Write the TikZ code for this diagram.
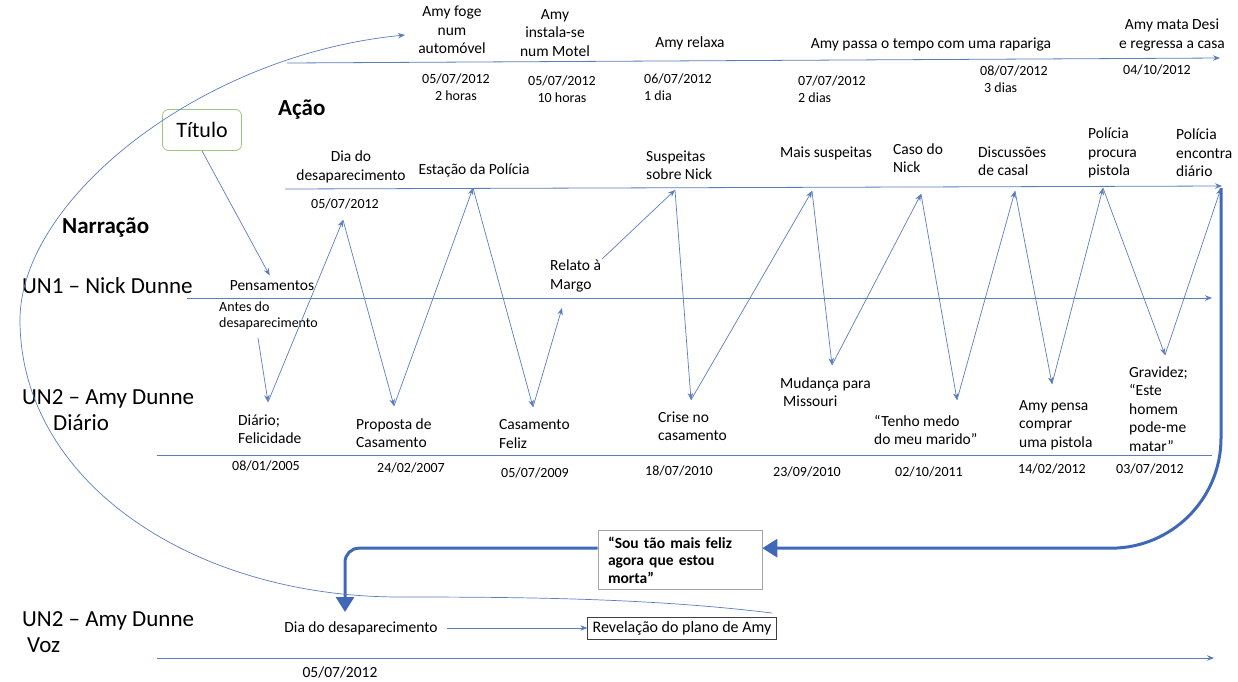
\documentclass[tikz,border=0pt]{standalone}
\usepackage{fontspec}
\setmainfont{Carlito}
\usepackage{tikz}
\usetikzlibrary{arrows.meta, positioning, calc}

\definecolor{lineblue}{HTML}{5A7DBF}
\definecolor{boldblue}{HTML}{4068B8}
\definecolor{titlegreen}{HTML}{9CC87E}

\begin{document}
\begin{tikzpicture}[
    x=1pt, y=-1pt,
    every node/.style={inner sep=1pt, font=\fontsize{15.5}{18.5}\selectfont},
    event/.style={align=center},
    leftnote/.style={align=left, anchor=west},
    dtext/.style={font=\fontsize{14}{17}\selectfont},
    lane/.style={anchor=west, align=left, inner sep=0pt, font=\fontsize{23}{26}\selectfont},
    heading/.style={anchor=west, inner sep=0pt, font=\fontsize{23}{26}\selectfont\bfseries},
    timeline/.style={draw=lineblue, line width=0.8pt},
    flow/.style={draw=lineblue, line width=0.7pt, -{Stealth[length=7pt, width=5.5pt]}},
    jumpback/.style={draw=boldblue, line width=3pt, -{Triangle[length=15pt, width=18pt]}},
    quotebox/.style={draw=gray!70, line width=0.6pt, align=left, text width=144pt, inner xsep=10pt, inner ysep=6pt, font=\fontsize{15.5}{17.5}\selectfont\bfseries},
    planbox/.style={draw=black!75, line width=0.6pt, inner xsep=5pt, inner ysep=4pt, font=\fontsize{16}{19}\selectfont}
]
    \useasboundingbox (0,0) rectangle (1238,681);

    % Lane titles
    \node[heading] (acao) at (278,110) {Ação};
    \node[heading] (narracao) at (62,228) {Narração};
    \node[draw=titlegreen, rounded corners=6pt, line width=0.8pt, minimum width=79pt, minimum height=41pt, font=\fontsize{22}{26}\selectfont] (titulo) at (202,130) {Título};
    \node[lane] (un1) at (22,286) {UN1 – Nick Dunne};
    \node[lane] (un2) at (22,410) {UN2 – Amy Dunne\\\hspace*{31pt}Diário};
    \node[lane] (un2voz) at (22,632) {UN2 – Amy Dunne\\\hspace*{5pt}Voz};

    % Timeline lines
    \coordinate (topL) at (287,63);
    \coordinate (topR) at (1220,58);
    \coordinate (acaoL) at (285,189);
    \coordinate (acaoR) at (1222,186);
    \coordinate (nickL) at (187,298);
    \coordinate (nickR) at (1212,298);
    \coordinate (diarioL) at (157,455);
    \coordinate (diarioR) at (1212,455);
    \coordinate (vozL) at (157,658);
    \coordinate (vozR) at (1214,658);
    \draw[flow, line width=0.8pt] (topL) -- (topR);
    \draw[flow, line width=0.8pt] (acaoL) -- (acaoR);
    \draw[flow, line width=0.8pt] (nickL) -- (nickR);
    \draw[timeline] (diarioL) -- (diarioR);
    \draw[flow, line width=0.8pt] (vozL) -- (vozR);

    % Amy after the disappearance
    \node[event] (foge) at (452,30) {Amy foge\\num\\automóvel};
    \node[event] (motel) at (555,33) {Amy\\instala-se\\num Motel};
    \node (relaxa) at (690,43) {Amy relaxa};
    \node (rapariga) at (931,44) {Amy passa o tempo com uma rapariga};
    \node[event] (desi) at (1172,35) {Amy mata Desi\\e regressa a casa};
    \node[event, dtext] (h2) at (456,87) {05/07/2012\\2 horas};
    \node[event, dtext] (h10) at (562,89) {05/07/2012\\10 horas};
    \node[leftnote, dtext] (dia1) at (643,87) {06/07/2012\\1 dia};
    \node[leftnote, dtext] (dias2) at (797,89) {07/07/2012\\2 dias};
    \node[leftnote, dtext] (dias3) at (979,79) {08/07/2012\\\hspace*{4pt}3 dias};
    \node[leftnote, dtext] (volta) at (1122,70) {04/10/2012};

    % Nick
    \node[event] (diades) at (351,167) {Dia do\\desaparecimento};
    \node[dtext] (diadata) at (345,204) {05/07/2012};
    \node (estacao) at (474,170) {Estação da Polícia};
    \node[leftnote] (suspeitas) at (645,165) {Suspeitas\\sobre Nick};
    \node (mais) at (826,153) {Mais suspeitas};
    \node[leftnote] (caso) at (892,158) {Caso do\\Nick};
    \node[leftnote] (discussoes) at (977,161) {Discussões\\de casal};
    \node[leftnote] (procura) at (1087,153) {Polícia\\procura\\pistola};
    \node[leftnote] (encontra) at (1175,153) {Polícia\\encontra\\diário};
    \node[leftnote] (relato) at (549,276) {Relato à\\Margo};
    \node (pensamentos) at (272,286) {Pensamentos};
    \node[leftnote, font=\fontsize{14}{16.5}\selectfont] (antes) at (218,316) {Antes do\\desaparecimento};

    % Diary
    \node[leftnote] (felicidade) at (237,429) {Diário;\\Felicidade};
    \node[leftnote] (proposta) at (355,433) {Proposta de\\Casamento};
    \node[leftnote] (casfeliz) at (498,434) {Casamento\\Feliz};
    \node[leftnote] (crise) at (657,426) {Crise no\\casamento};
    \node[leftnote] (mudanca) at (779,392) {Mudança para\\\hspace*{3pt}Missouri};
    \node[leftnote] (medo) at (873,430) {“Tenho medo\\do meu marido”};
    \node[leftnote] (pistola) at (1018,425) {Amy pensa\\comprar\\uma pistola};
    \node[leftnote] (gravidez) at (1128,409) {Gravidez;\\“Este\\homem\\pode-me\\matar”};
    \node[dtext] (d2005) at (266,466) {08/01/2005};
    \node[dtext] (d2007) at (411,468) {24/02/2007};
    \node[dtext] (d2009) at (535,473) {05/07/2009};
    \node[dtext] (d2010a) at (679,471) {18/07/2010};
    \node[dtext] (d2010b) at (807,472) {23/09/2010};
    \node[dtext] (d2011) at (929,472) {02/10/2011};
    \node[dtext] (d2012a) at (1052,469) {14/02/2012};
    \node[dtext] (d2012b) at (1150,469) {03/07/2012};

    % Voice
    \node[quotebox] (sou) at (680,560) {“Sou tão mais feliz\\agora que estou\\morta”};
    \node (dia2) at (361,628) {Dia do desaparecimento};
    \node[planbox] (plano) at (682,628) {Revelação do plano de Amy};
    \node (vozdata) at (340,672) {05/07/2012};

    % Zigzag points
    \coordinate (t0) at (258,338);
    \coordinate (t1) at (268,402);
    \coordinate (t2) at (343,220);
    \coordinate (t3) at (394,406);
    \coordinate (t4) at (473,188);
    \coordinate (t5) at (533,407);
    \coordinate (t6) at (562,308);
    \coordinate (t7) at (675,190);
    \coordinate (t8) at (691,400);
    \coordinate (t9) at (812,191);
    \coordinate (t10) at (832,365);
    \coordinate (t11) at (921,194);
    \coordinate (t12) at (957,400);
    \coordinate (t13) at (1015,191);
    \coordinate (t14) at (1052,384);
    \coordinate (t15) at (1103,188);
    \coordinate (t16) at (1165,355);
    \coordinate (t17) at (1221,188);
    \coordinate (drop) at (345,612);
    \coordinate (loopend) at (405,35);
    \coordinate (plantop) at (772,613);

    % Arrows
    \draw[flow, shorten >=5pt] (titulo.south) -- (pensamentos.north);
    \draw[flow] (t0) -- (t1);
    \draw[flow] (t1) -- (t2);
    \draw[flow] (t2) -- (t3);
    \draw[flow] (t3) -- (t4);
    \draw[flow] (t4) -- (t5);
    \draw[flow] (t5) -- (t6);
    \draw[flow] (relato.north east) -- (t7);
    \draw[flow] (t7) -- (t8);
    \draw[flow] (t8) -- (t9);
    \draw[flow] (t9) -- (t10);
    \draw[flow] (t10) -- (t11);
    \draw[flow] (t11) -- (t12);
    \draw[flow] (t12) -- (t13);
    \draw[flow] (t13) -- (t14);
    \draw[flow] (t14) -- (t15);
    \draw[flow] (t15) -- (t16);
    \draw[flow] (t16) -- (t17);
    \draw[jumpback, rounded corners=110pt] (t17) |- ($(sou.north east)!0.3!(sou.south east)$);
    \draw[jumpback, rounded corners=14pt] ($(sou.north west)!0.3!(sou.south west)$) -| (drop);
    \draw[flow, shorten <=8pt] (dia2) -- (plano);
    \draw[flow] (plantop) .. controls (650,598) and (520,597) .. (400,597)
        .. controls (190,597) and (20,480) .. (20,320)
        .. controls (20,200) and (200,55) .. (loopend);
\end{tikzpicture}
\end{document}
